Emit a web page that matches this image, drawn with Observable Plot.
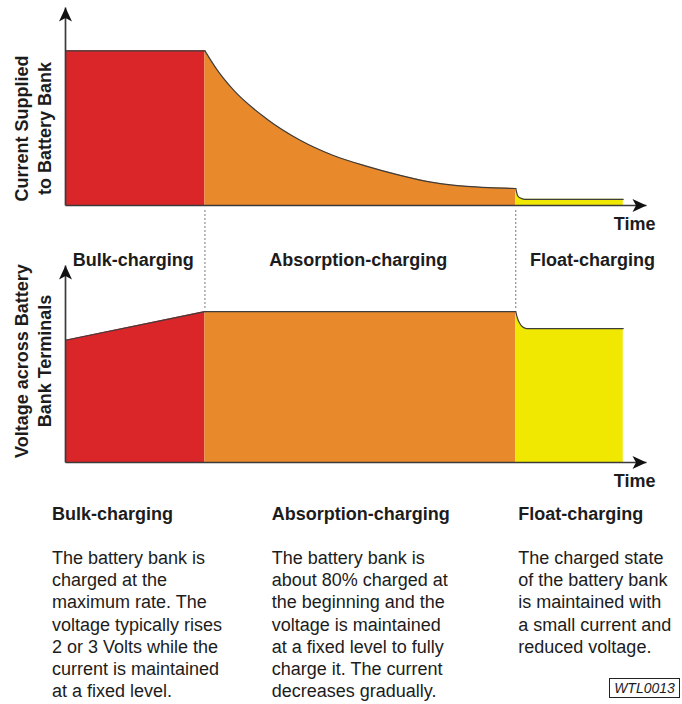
<!DOCTYPE html>
<html>
<head>
<meta charset="utf-8">
<script src="https://cdn.jsdelivr.net/npm/d3@7"></script>
<script src="https://cdn.jsdelivr.net/npm/@observablehq/plot@0.6"></script>
<style>
  body { margin: 0; background: #fff; }
  #wrap { position: relative; width: 682px; height: 704px; overflow: hidden;
          font-family: "Liberation Sans", Arial, Helvetica, sans-serif; color: #1c1c1c; }
  #top, #bottom { position: absolute; left: 0; }
  #top { top: 0; }
  #bottom { top: 208px; }
  .col { position: absolute; top: 502.7px; font-size: 18px; line-height: 22.2px; white-space: nowrap; }
  .col b { display: block; margin-bottom: 22.2px; }
  #code { position: absolute; left: 609px; top: 678px; width: 69px; height: 18px;
          border: 1px solid #222; font-style: italic; font-size: 14px; line-height: 18px; text-align: center; }
</style>
</head>
<body>
<div id="wrap">
  <div id="top"></div>
  <div id="bottom"></div>
  <div id="notes"></div>
  <div id="code"></div>
</div>
<script>
// ---- data ----
const phases = ["Bulk-charging", "Absorption-charging", "Float-charging"];
const phaseColors = ["#da2629", "#e8892b", "#f0e800"];
const phaseStart = [0, 2.4, 7.75];
const phaseEnd = [2.4, 7.75, 9.6];
const timeAxisEnd = 10;

const bulkCurrentTime = [0, 2.4];
const bulkCurrent = [1, 1];
const absorptionCurrentTime = [2.4, 2.61, 2.89, 3.47, 4.04, 4.6, 5.19, 5.76, 6.32, 6.91, 7.3, 7.75];
const absorptionCurrent = [1, 0.877, 0.747, 0.558, 0.422, 0.325, 0.253, 0.195, 0.149, 0.123, 0.115, 0.11];
const floatCurrentTime = [7.75, 7.78, 7.83, 7.9, 9.6];
const floatCurrent = [0.11, 0.065, 0.048, 0.04, 0.04];

const bulkVoltageTime = [0, 2.4];
const bulkVoltage = [0.81, 1];
const absorptionVoltageTime = [2.4, 7.75];
const absorptionVoltage = [1, 1];
const floatVoltageTime = [7.75, 7.78, 7.82, 7.87, 7.94, 9.6];
const floatVoltage = [1, 0.954, 0.921, 0.897, 0.887, 0.887];

const currentAxisMax = 1.28;
const voltageAxisMax = 1.305;

const currentLabel = "Current Supplied\nto Battery Bank";
const voltageLabel = "Voltage across Battery\nBank Terminals";
const timeLabel = "Time";

const notesTitles = phases;
const notesBodies = [
  ["The battery bank is", "charged at the", "maximum rate. The", "voltage typically rises", "2 or 3 Volts while the", "current is maintained", "at a fixed level."],
  ["The battery bank is", "about 80% charged at", "the beginning and the", "voltage is maintained", "at a fixed level to fully", "charge it. The current", "decreases gradually."],
  ["The charged state", "of the battery bank", "is maintained with", "a small current and", "reduced voltage."]
];
const figureCode = "WTL0013";

// ---- build tables ----
function rows(times, values, phase) {
  return times.map((t, i) => ({t, v: values[i], phase}));
}
const currentRows = [
  ...rows(bulkCurrentTime, bulkCurrent, phases[0]),
  ...rows(absorptionCurrentTime, absorptionCurrent, phases[1]),
  ...rows(floatCurrentTime, floatCurrent, phases[2])
];
const voltageRows = [
  ...rows(bulkVoltageTime, bulkVoltage, phases[0]),
  ...rows(absorptionVoltageTime, absorptionVoltage, phases[1]),
  ...rows(floatVoltageTime, floatVoltage, phases[2])
];
const phaseRows = phases.map((p, i) => ({phase: p, mid: (phaseStart[i] + phaseEnd[i]) / 2}));

// notched arrowhead symbol, tip at origin pointing up
const arrowHead = {
  draw(ctx) {
    ctx.moveTo(0, 0);
    ctx.lineTo(6.5, 14);
    ctx.lineTo(0, 10.5);
    ctx.lineTo(-6.5, 14);
    ctx.closePath();
  }
};

const font = '"Liberation Sans", Arial, Helvetica, sans-serif';
const ink = "#1c1c1c";
const axisInk = "#3a3a3a";

function chart({data, yMax, height, marginTop, marginBottom, label, labelDy, extra}) {
  return Plot.plot({
    width: 682,
    height,
    marginLeft: 65,
    marginRight: 36,
    marginTop,
    marginBottom,
    style: {background: "transparent", fontFamily: font, overflow: "visible"},
    x: {domain: [0, timeAxisEnd], axis: null},
    y: {domain: [0, yMax], axis: null},
    color: {domain: phases, range: phaseColors},
    marks: [
      Plot.areaY(data, {x: "t", y1: 0, y2: "v", z: "phase", fill: "phase", curve: "monotone-x"}),
      Plot.line(data, {x: "t", y: "v", z: "phase", stroke: "#3d3d3d", strokeWidth: 1.2, curve: "monotone-x"}),
      Plot.link([0], {x1: 0, y1: 0, x2: timeAxisEnd, y2: 0, stroke: axisInk, strokeWidth: 1.7}),
      Plot.link([0], {x1: 0, y1: 0, x2: 0, y2: yMax, stroke: axisInk, strokeWidth: 1.7}),
      Plot.dot([{x: 0, y: yMax, r: 0}, {x: timeAxisEnd, y: 0, r: 90}],
        {x: "x", y: "y", rotate: "r", symbol: arrowHead, r: 5, fill: "#111", stroke: "none"}),
      Plot.text([timeLabel], {x: timeAxisEnd, y: 0, text: d => d, textAnchor: "end", lineAnchor: "bottom",
        dx: 9, dy: 24, fontSize: 18, fontWeight: "bold", fill: ink}),
      Plot.text([label], {text: d => d, frameAnchor: "left", rotate: -90, textAnchor: "middle", lineAnchor: "middle",
        lineHeight: 1.3, dx: -33.5, dy: labelDy, fontSize: 18, fontWeight: "bold", fill: ink}),
      ...(extra || [])
    ]
  });
}

const topPlot = chart({
  data: currentRows, yMax: currentAxisMax, height: 240, marginTop: 7, marginBottom: 35,
  label: currentLabel, labelDy: 22
});

const bottomPlot = chart({
  data: voltageRows, yMax: voltageAxisMax, height: 300, marginTop: 57, marginBottom: 46,
  label: voltageLabel, labelDy: -3,
  extra: [
    Plot.ruleX(phaseEnd.slice(0, 2), {x: d => d, insetTop: -55, insetBottom: 154,
      stroke: "#555", strokeWidth: 0.8, strokeDasharray: "2,2"}),
    Plot.text(phaseRows.filter(d => d.phase !== phases[2]), {x: "mid", text: "phase", frameAnchor: "top",
      lineAnchor: "bottom", dx: -2, fontSize: 18, fontWeight: "bold", fill: ink}),
    Plot.text(phaseRows.filter(d => d.phase === phases[2]), {x: "mid", text: "phase", frameAnchor: "top",
      lineAnchor: "bottom", dx: 23, fontSize: 18, fontWeight: "bold", fill: ink})
  ]
});

document.getElementById("top").appendChild(topPlot);
document.getElementById("bottom").appendChild(bottomPlot);

const colX = [52, 271.7, 518.3];
const notes = document.getElementById("notes");
notesTitles.forEach((title, i) => {
  const div = document.createElement("div");
  div.className = "col";
  div.style.left = colX[i] + "px";
  const b = document.createElement("b");
  b.textContent = title;
  div.appendChild(b);
  notesBodies[i].forEach(line => {
    const l = document.createElement("div");
    l.textContent = line;
    div.appendChild(l);
  });
  notes.appendChild(div);
});
document.getElementById("code").textContent = figureCode;
</script>
</body>
</html>
